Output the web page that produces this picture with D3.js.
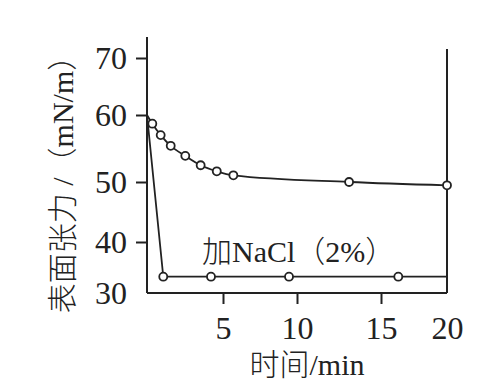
<!DOCTYPE html>
<html>
<head>
<meta charset="utf-8">
<script src="https://cdn.jsdelivr.net/npm/d3@7"></script>
<style>
  body { margin: 0; background: #fff; }
  text { font-family: "Liberation Serif", "Noto Sans CJK SC", serif; fill: #222; }
  .cjk { font-weight: 300; }
</style>
</head>
<body>
<script>
// time (min) / surface tension (mN/m)
var pureTime = [0, 0.35, 0.90, 1.56, 2.52, 3.53, 4.59, 5.70, 13.1, 20];
var pureTension = [60, 58.7, 57.0, 55.4, 53.9, 52.5, 51.6, 51.0, 50.0, 49.45];

var saltTime = [0, 1.07, 4.21, 9.46, 16.31, 20];
var saltTension = [60, 33.2, 33.2, 33.2, 33.2, 33.2];

var xTicks = [5, 10, 15, 20];
var yTicks = [30, 40, 50, 60, 70];
var saltLabel = "加NaCl（2%）";
var xTitle = "时间/min";
var yTitle = "表面张力 /（mN/m）";

var width = 503, height = 388;
var svg = d3.select("body").append("svg")
    .attr("width", width)
    .attr("height", height);

// hand drawn axes, tick spacing is not even
var x = d3.scaleLinear().domain([0, 5, 10, 15, 20]).range([147, 223, 297, 381, 447]);
var y = d3.scaleLinear().domain([30, 40, 50, 60, 70]).range([293, 242, 182, 115, 58]);

var ink = "#222";

// frame lines
svg.append("line").attr("x1", 147).attr("x2", 147).attr("y1", 37).attr("y2", y(30))
    .attr("stroke", ink).attr("stroke-width", 2);
svg.append("line").attr("x1", x(0)).attr("x2", x(20)).attr("y1", y(30)).attr("y2", y(30))
    .attr("stroke", ink).attr("stroke-width", 2);
svg.append("line").attr("x1", x(20)).attr("x2", x(20)).attr("y1", 49).attr("y2", y(30))
    .attr("stroke", ink).attr("stroke-width", 2);

var yAxis = svg.append("g")
    .attr("transform", "translate(147,0)")
    .call(d3.axisLeft(y).tickValues(yTicks).tickSize(11).tickPadding(9));
yAxis.select(".domain").remove();
yAxis.selectAll(".tick line").attr("stroke", ink).attr("stroke-width", 2)
    .filter(function(d){ return d == 30; }).remove();
yAxis.selectAll(".tick text").attr("font-size", 32).attr("fill", ink)
    .style("font-family", "Liberation Serif, serif");

var xAxis = svg.append("g")
    .attr("transform", "translate(0," + y(30) + ")")
    .call(d3.axisBottom(x).tickValues(xTicks).tickSize(11).tickPadding(12));
xAxis.select(".domain").remove();
xAxis.selectAll(".tick line").attr("stroke", ink).attr("stroke-width", 2)
    .filter(function(d){ return d == 20; }).remove();
xAxis.selectAll(".tick text").attr("font-size", 32).attr("fill", ink)
    .style("font-family", "Liberation Serif, serif");

// lines
var pure = pureTime.map(function(t, i){ return [t, pureTension[i]]; });
var salt = saltTime.map(function(t, i){ return [t, saltTension[i]]; });

var smooth = d3.line()
    .x(function(d){ return x(d[0]); })
    .y(function(d){ return y(d[1]); })
    .curve(d3.curveMonotoneX);
var straight = d3.line()
    .x(function(d){ return x(d[0]); })
    .y(function(d){ return y(d[1]); });

svg.append("path").datum(pure).attr("d", smooth)
    .attr("fill", "none").attr("stroke", ink).attr("stroke-width", 1.8);
svg.append("path").datum(salt).attr("d", straight)
    .attr("fill", "none").attr("stroke", ink).attr("stroke-width", 1.8);

// open circle markers (not on the start point, nor salt end)
var marks = pure.slice(1).concat(salt.slice(1, salt.length - 1));
svg.selectAll(".dot").data(marks).enter().append("circle")
    .attr("class", "dot")
    .attr("cx", function(d){ return x(d[0]); })
    .attr("cy", function(d){ return y(d[1]); })
    .attr("r", 4)
    .attr("fill", "#fff")
    .attr("stroke", ink)
    .attr("stroke-width", 1.8);

svg.append("text")
    .attr("class", "cjk")
    .attr("x", 202).attr("y", 262)
    .attr("font-size", 30)
    .text(saltLabel);

svg.append("text")
    .attr("class", "cjk")
    .attr("x", 307).attr("y", 375)
    .attr("text-anchor", "middle")
    .attr("font-size", 30)
    .text(xTitle);

svg.append("text")
    .attr("class", "cjk")
    .attr("transform", "translate(73,177) rotate(-90)")
    .attr("text-anchor", "middle")
    .attr("font-size", 30)
    .text(yTitle);
</script>
</body>
</html>
